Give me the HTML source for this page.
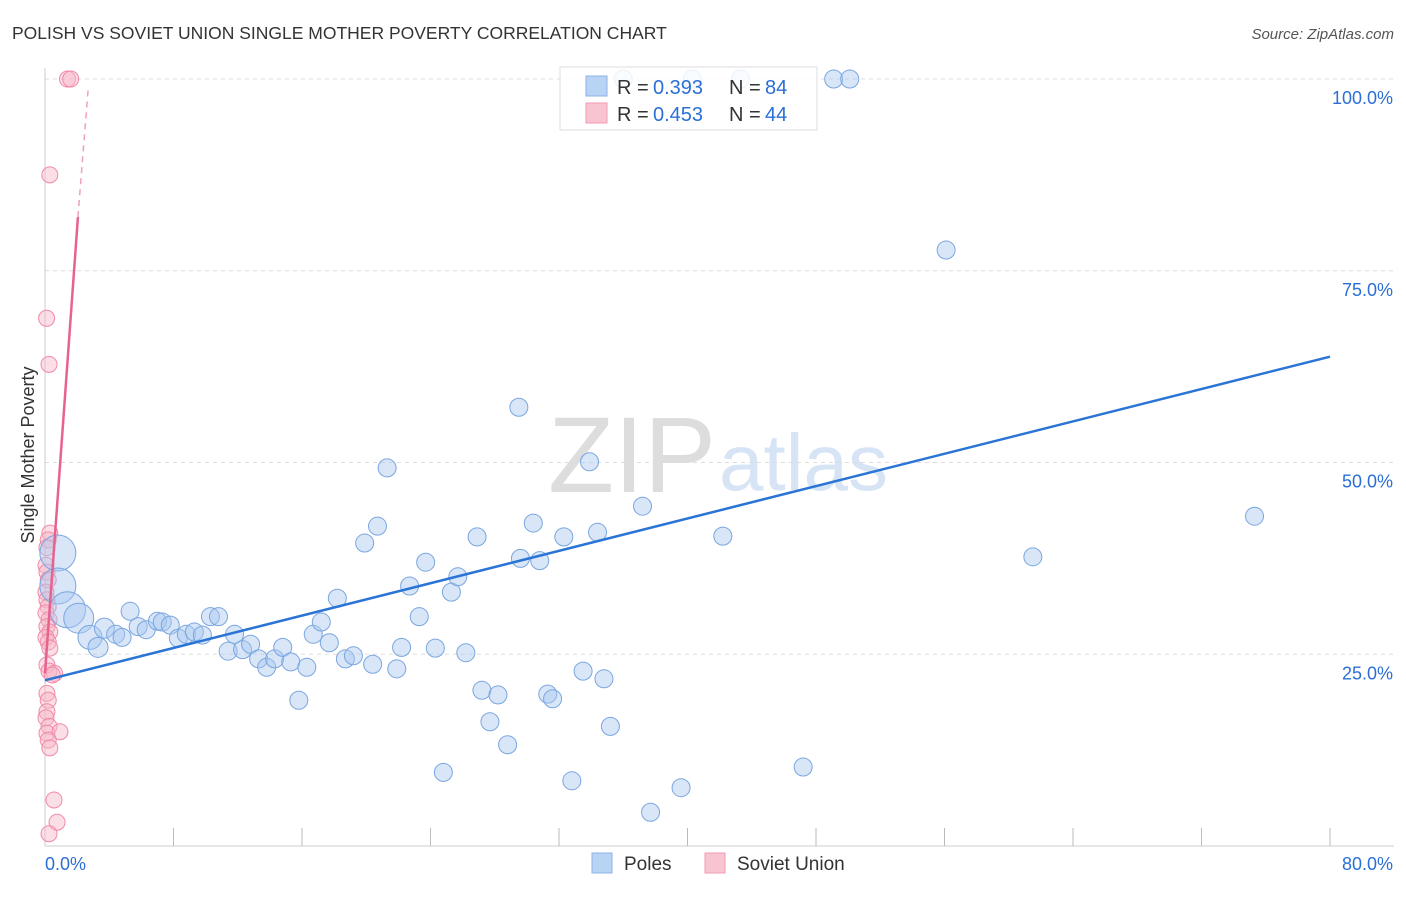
<!DOCTYPE html>
<html><head><meta charset="utf-8">
<style>
body{margin:0;background:#fff;font-family:"Liberation Sans",sans-serif;}
svg text{font-family:"Liberation Sans",sans-serif;}
</style></head>
<body>
<svg id="chart" width="1406" height="892" xmlns="http://www.w3.org/2000/svg">
<text x="12" y="39" font-size="17.5" fill="#333">POLISH VS SOVIET UNION SINGLE MOTHER POVERTY CORRELATION CHART</text>
<text x="1394" y="39" font-size="15" fill="#555" font-style="italic" text-anchor="end">Source: ZipAtlas.com</text>
<text x="34" y="455" font-size="18" fill="#333" text-anchor="middle" transform="rotate(-90 34 455)">Single Mother Poverty</text>
<text x="716" y="492" font-size="108" fill="#ddd" text-anchor="end" font-family="Liberation Serif">ZIP</text>
<text x="719" y="490" font-size="80" fill="#d6e4f5">atlas</text>
<g id="grid"></g><g id="axes"></g><g id="pink"></g><g id="blue"></g><g id="lines"></g>
<g>
<rect x="560" y="67" width="257" height="63" fill="#fff" fill-opacity="0.85" stroke="#ddd"/>
<rect x="586" y="76" width="21" height="20" fill="#b9d3f5" stroke="#8db3e8"/>
<rect x="586" y="103" width="21" height="20" fill="#f9c4d2" stroke="#f19bb3"/>
<text x="617" y="94" font-size="20" fill="#333">R =</text><text x="653" y="94" font-size="20" fill="#2b6fd6">0.393</text>
<text x="729" y="94" font-size="20" fill="#333">N =</text><text x="765" y="94" font-size="20" fill="#2b6fd6">84</text>
<text x="617" y="121" font-size="20" fill="#333">R =</text><text x="653" y="121" font-size="20" fill="#2b6fd6">0.453</text>
<text x="729" y="121" font-size="20" fill="#333">N =</text><text x="765" y="121" font-size="20" fill="#2b6fd6">44</text>
</g>
<g>
<rect x="592" y="853" width="20" height="20" fill="#b9d3f5" stroke="#8db3e8"/>
<text x="624" y="870" font-size="19" fill="#333">Poles</text>
<rect x="705" y="853" width="20" height="20" fill="#f9c4d2" stroke="#f19bb3"/>
<text x="737" y="870" font-size="19" fill="#333">Soviet Union</text>
</g>
</svg>
<script>
const yTicks=[100,75,50,25];
const yTickLabels=["100.0%","75.0%","50.0%","25.0%"];
const xTickLabels=["0.0%","80.0%"];
const bluePts=[[0.8,38.2,18],[0.8,33.9,18],[1.4,30.8,18],[2.1,29.7,15],[2.8,27.2,12],[3.3,25.9,10],[3.7,28.4,10],[4.4,27.6,9],[4.8,27.2,9],[5.3,30.6,9],[5.8,28.6,9],[6.3,28.2,9],[7.0,29.3,9],[7.3,29.2,9],[7.8,28.8,9],[8.3,27.1,9],[8.8,27.6,9],[9.3,27.9,9],[9.8,27.5,9],[10.3,29.9,9],[10.8,29.9,9],[11.4,25.4,9],[11.8,27.6,9],[12.3,25.6,9],[12.8,26.3,9],[13.3,24.4,9],[13.8,23.3,9],[14.3,24.4,9],[14.8,25.9,9],[15.3,24.0,9],[15.8,19.0,9],[16.3,23.3,9],[16.7,27.6,9],[17.2,29.2,9],[17.7,26.5,9],[18.2,32.3,9],[18.7,24.4,9],[19.2,24.8,9],[19.9,39.5,9],[20.4,23.7,9],[20.7,41.7,9],[21.3,49.3,9],[21.9,23.1,9],[22.2,25.9,9],[22.7,33.9,9],[23.3,29.9,9],[23.7,37.0,9],[24.3,25.8,9],[24.8,9.6,9],[25.3,33.1,9],[25.7,35.1,9],[26.2,25.2,9],[26.9,40.3,9],[27.2,20.3,9],[27.7,16.2,9],[28.2,19.7,9],[28.8,13.2,9],[29.5,57.2,9],[29.6,37.5,9],[30.4,42.1,9],[30.8,37.2,9],[31.3,19.8,9],[31.6,19.2,9],[32.3,40.3,9],[32.8,8.5,9],[33.5,22.8,9],[33.9,50.1,9],[34.4,40.9,9],[34.8,21.8,9],[35.2,15.6,9],[37.2,44.3,9],[37.7,4.4,9],[39.6,7.6,9],[42.2,40.4,9],[47.2,10.3,9],[49.1,100,9],[50.1,100,9],[56.1,77.7,9],[61.5,37.7,9],[75.3,43.0,9],[36.0,100,9],[40.3,100,9],[43.3,100,9]];
const pinkPts=[[1.4,100],[1.6,100],[0.3,87.5],[0.1,68.8],[0.25,62.8],[0.3,40.8],[0.2,39.9],[0.12,38.9],[0.06,36.6],[0.12,35.7],[0.2,34.7],[0.06,33.1],[0.12,32.1],[0.2,31.2],[0.06,30.4],[0.25,29.5],[0.12,28.6],[0.3,27.9],[0.06,27.2],[0.2,26.6],[0.3,25.8],[0.12,23.6],[0.25,22.8],[0.6,22.5],[0.45,22.3],[0.12,19.9],[0.2,19.0],[0.12,17.5],[0.06,16.7],[0.25,15.6],[0.12,14.7],[0.93,14.9],[0.2,13.8],[0.3,12.8],[0.56,6.0],[0.75,3.1],[0.25,1.6]];
const blueLine=[[0,21.6],[80,63.8]];
const pinkSolid=[[0,22.5],[2.05,82]];
const pinkDash=[[2.05,82],[2.7,99]];
const X=v=>45+v*(1285/80), Y=v=>846-v*7.67;
const NS="http://www.w3.org/2000/svg";
function mk(p,t,a){const e=document.createElementNS(NS,t);for(const k in a)e.setAttribute(k,a[k]);document.getElementById(p).appendChild(e);return e;}
yTicks.forEach((t,i)=>{
 const g=mk('grid','line',{x1:45,x2:1394,y1:Y(t),y2:Y(t),stroke:'#ddd','stroke-dasharray':'4 4'});
 
 
 const l=mk('grid','text',{x:1393,y:Y(t)+25,'font-size':18,fill:'#2b6fd6','text-anchor':'end'});l.textContent=yTickLabels[i];
 
 
});
const ax=mk('axes','line',{x1:45,x2:1394,y1:846,y2:846,stroke:'#ccc'});


const ay=mk('axes','line',{x1:45,x2:45,y1:68,y2:846,stroke:'#ccc'});


for(let i=1;i<=10;i++){const t=mk('axes','line',{x1:X(i*8),x2:X(i*8),y1:828,y2:846,stroke:'#bbb'});
 
 }
const x0=mk('axes','text',{x:45,y:870,'font-size':18,fill:'#2b6fd6'});x0.textContent=xTickLabels[0];


const x1=mk('axes','text',{x:1393,y:870,'font-size':18,fill:'#2b6fd6','text-anchor':'end'});x1.textContent=xTickLabels[1];


pinkPts.forEach(p=>{const c=mk('pink','circle',{cx:X(p[0]),cy:Y(p[1]),r:8,fill:'#f7b6c8','fill-opacity':0.45,stroke:'#f08aa8','stroke-width':1});
 
 });
bluePts.forEach(p=>{const c=mk('blue','circle',{cx:X(p[0]),cy:Y(p[1]),r:p[2],fill:'#a9c8f0','fill-opacity':0.45,stroke:'#7aa6e0','stroke-width':1});
 
 });
const bl=mk('lines','line',{x1:X(blueLine[0][0]),y1:Y(blueLine[0][1]),x2:X(blueLine[1][0]),y2:Y(blueLine[1][1]),stroke:'#2a74d5','stroke-width':2.5});


const pl=mk('lines','line',{x1:X(pinkSolid[0][0]),y1:Y(pinkSolid[0][1]),x2:X(pinkSolid[1][0]),y2:Y(pinkSolid[1][1]),stroke:'#e8628e','stroke-width':2.5});


const pd=mk('lines','line',{x1:X(pinkDash[0][0]),y1:Y(pinkDash[0][1]),x2:X(pinkDash[1][0]),y2:Y(pinkDash[1][1]),stroke:'#f0a0b8','stroke-width':1.5,'stroke-dasharray':'6 5'});


</script>
</body></html>
